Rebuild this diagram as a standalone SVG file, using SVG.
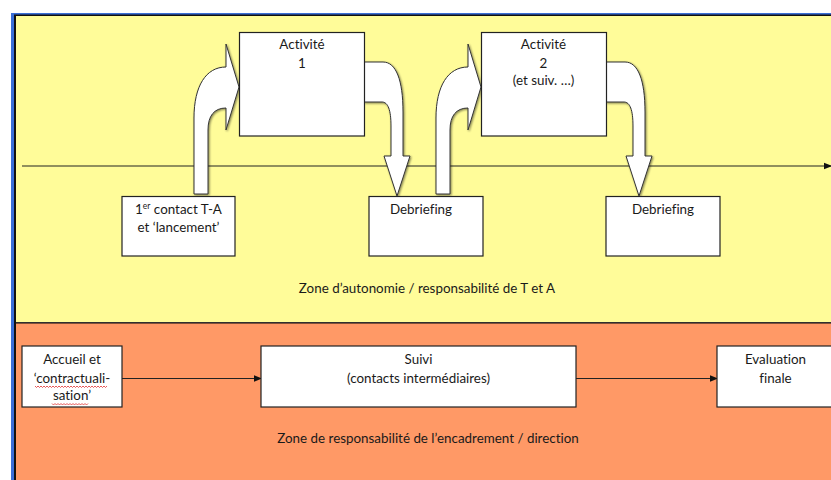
<svg xmlns="http://www.w3.org/2000/svg" width="831" height="480" viewBox="0 0 831 480">
<defs>
<style>
.box{fill:#fff;stroke:#222;stroke-width:1.2}
.arr{fill:#fff;stroke:#333;stroke-width:1;stroke-linejoin:miter}
.t{font-family:Lato,"Open Sans","Liberation Sans",sans-serif;font-size:13.4px;fill:#1a1a1a;text-anchor:middle;font-variant-ligatures:none}
.ln{stroke:#222;stroke-width:1.2;fill:none}
.sq{stroke:#e03030;stroke-width:0.8;fill:none}
</style>
<marker id="ah" markerWidth="8" markerHeight="8" refX="7" refY="4" orient="auto" markerUnits="userSpaceOnUse">
<path d="M0,0.8 L8,4 L0,7.2 Z" fill="#111"/>
</marker>
<filter id="sh" x="-20%" y="-20%" width="140%" height="140%">
<feGaussianBlur in="SourceAlpha" stdDeviation="0.8"/>
<feOffset dx="0.5" dy="0.5"/>
<feComponentTransfer><feFuncA type="linear" slope="0.5"/></feComponentTransfer>
<feMerge><feMergeNode/><feMergeNode in="SourceGraphic"/></feMerge>
</filter>
<path id="bentUp" d="M194,194 L194,118 C194,86 206,67 226,67 L226,44 L239,87 L226,130 L226,108 C214,108 208,116 208,130 L208,194 Z"/>
<path id="bentDown" d="M364,62 L383,62 C396,62 403,80 403,112 L403,156 L410,156 L397,196 L384,156 L391,156 L391,126 C391,110 388,102 382,102 L364,102 Z"/>
</defs>

<g id="background">
<rect x="0" y="0" width="831" height="480" fill="#fff"/>
<rect x="11" y="13" width="820" height="467" fill="#3a6fd8"/>
<rect x="14" y="14.5" width="817" height="465.5" fill="#111"/>
<rect x="16" y="16" width="815" height="306" fill="#FFFC99"/>
<rect x="16" y="323.5" width="815" height="156.5" fill="#FF9966"/>
<line x1="16" y1="322.6" x2="831" y2="322.6" stroke="#333" stroke-width="1"/>
</g>

<g id="zone-labels">
<text class="t" x="427" y="293">Zone d’autonomie / responsabilité de T et A</text>
<text class="t" x="428" y="443">Zone de responsabilité de l’encadrement / direction</text>
</g>

<g id="connectors">
<line class="ln" x1="22" y1="166" x2="831" y2="166" marker-end="url(#ah)"/>
<line class="ln" x1="122" y1="378.5" x2="261" y2="378.5" marker-end="url(#ah)"/>
<line class="ln" x1="576" y1="378.5" x2="717" y2="378.5" marker-end="url(#ah)"/>
<use href="#bentUp" class="arr" filter="url(#sh)"/>
<use href="#bentDown" class="arr" filter="url(#sh)"/>
<use href="#bentUp" class="arr" filter="url(#sh)" transform="translate(242,0)"/>
<use href="#bentDown" class="arr" filter="url(#sh)" transform="translate(242,0)"/>
</g>

<g id="activite1">
<rect class="box" x="239.5" y="32.5" width="125" height="103.5"/>
<text class="t" x="302" y="48.5">Activité</text>
<text class="t" x="302" y="67.5">1</text>
</g>

<g id="activite2">
<rect class="box" x="481.5" y="32.5" width="125" height="103.5"/>
<text class="t" x="543.5" y="48.5">Activité</text>
<text class="t" x="543.5" y="67.5">2</text>
<text class="t" x="543.5" y="85">(et suiv. …)</text>
</g>

<g id="contact">
<rect class="box" x="122" y="196.5" width="113" height="59.5"/>
<text class="t" x="178.5" y="213.5">1<tspan font-size="8.5" dy="-4.5">er</tspan><tspan dy="4.5"> contact T-A</tspan></text>
<text class="t" x="178.5" y="231.5">et ‘lancement’</text>
</g>

<g id="debriefing1">
<rect class="box" x="369" y="196.5" width="114" height="59.5"/>
<text class="t" x="421" y="213.5">Debriefing</text>
</g>

<g id="debriefing2">
<rect class="box" x="606" y="196.5" width="114" height="59.5"/>
<text class="t" x="663" y="213.5">Debriefing</text>
</g>

<g id="accueil">
<rect class="box" x="22" y="346" width="100" height="61"/>
<text class="t" x="72" y="364">Accueil et</text>
<text class="t" x="72" y="382.5">‘contractuali-</text>
<text class="t" x="72" y="400">sation’</text>
<path class="sq" d="M35,386 l1.5,1.5 l1.5,-1.5 l1.5,1.5 l1.5,-1.5 l1.5,1.5 l1.5,-1.5 l1.5,1.5 l1.5,-1.5 l1.5,1.5 l1.5,-1.5 l1.5,1.5 l1.5,-1.5 l1.5,1.5 l1.5,-1.5 l1.5,1.5 l1.5,-1.5 l1.5,1.5 l1.5,-1.5 l1.5,1.5 l1.5,-1.5 l1.5,1.5 l1.5,-1.5 l1.5,1.5 l1.5,-1.5 l1.5,1.5 l1.5,-1.5 l1.5,1.5 l1.5,-1.5 l1.5,1.5 l1.5,-1.5 l1.5,1.5 l1.5,-1.5 l1.5,1.5 l1.5,-1.5 l1.5,1.5 l1.5,-1.5 l1.5,1.5 l1.5,-1.5 l1.5,1.5 l1.5,-1.5 l1.5,1.5 l1.5,-1.5 l1.5,1.5 l1.5,-1.5 l1.5,1.5 l1.5,-1.5 l1.5,1.5 l1.5,-1.5"/>
<path class="sq" d="M52,403.5 l1.5,1.5 l1.5,-1.5 l1.5,1.5 l1.5,-1.5 l1.5,1.5 l1.5,-1.5 l1.5,1.5 l1.5,-1.5 l1.5,1.5 l1.5,-1.5 l1.5,1.5 l1.5,-1.5 l1.5,1.5 l1.5,-1.5 l1.5,1.5 l1.5,-1.5 l1.5,1.5 l1.5,-1.5 l1.5,1.5 l1.5,-1.5 l1.5,1.5 l1.5,-1.5 l1.5,1.5 l1.5,-1.5"/>
</g>

<g id="suivi">
<rect class="box" x="261" y="346" width="315" height="61"/>
<text class="t" x="418.5" y="364">Suivi</text>
<text class="t" x="418.5" y="382.5">(contacts intermédiaires)</text>
</g>

<g id="evaluation">
<rect class="box" x="717" y="346" width="124" height="61"/>
<text class="t" x="775.5" y="364">Evaluation</text>
<text class="t" x="775.5" y="382.5">finale</text>
</g>
</svg>
